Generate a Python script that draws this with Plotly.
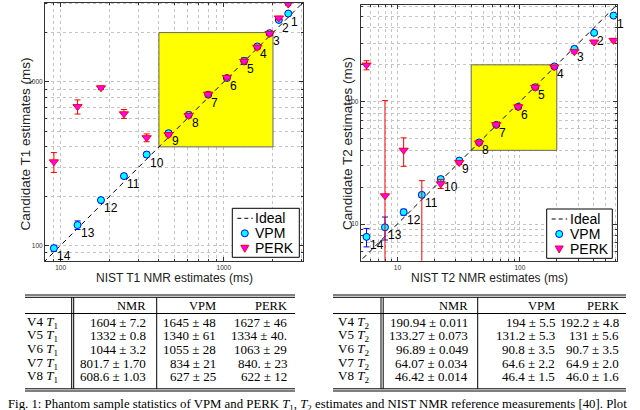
import math
import plotly.graph_objects as go

# sphere numbers of the NIST phantom
sample_ids = ["1", "2", "3", "4", "5", "6", "7", "8", "9", "10", "11", "12", "13", "14"]

# T1 (ms): NIST NMR reference vs. candidate estimates (mean, std)
nmr_t1 = [2480, 2173, 1907, 1604, 1332, 1044, 801.7, 608.6, 458.4, 336.5, 244.2, 176.6, 126.9, 90.9]
vpm_t1 = [2614, 2389, 1984, 1645, 1340, 1055, 834, 627, 485, 359, 265, 189, 133, 96]
vpm_t1_sd = [70, 65, 55, 48, 61, 28, 21, 25, 16, 12, 9, 7, 8, 4]
perk_t1 = [2990, 2457, 1975, 1627, 1334, 1063, 840, 622, 475, 455, 637, 919, 705, 324]
perk_t1_sd = [60, 55, 50, 46, 40, 29, 23, 12, 14, 25, 40, 22, 70, 45]

# T2 (ms)
nmr_t2 = [581.3, 403.5, 278.1, 190.94, 133.27, 96.89, 64.07, 46.42, 31.97, 22.56, 15.813, 11.237, 7.911, 5.592]
vpm_t2 = [505, 365, 270, 194, 131.2, 90.8, 64.6, 46.4, 33.0, 23.3, 17.3, 12.5, 9.4, 7.85]
vpm_t2_sd = [14, 11, 8, 5.5, 5.3, 3.5, 2.2, 1.5, 1.0, 1.0, 0.8, 0.7, 2.0, 1.35]
perk_t2 = [317, 307, 256, 192.2, 131, 90.7, 64.9, 46.0, 31.8, 21.3, 4.0, 40.1, 17.0, 199]
perk_t2_sd = [10, 10, 8, 4.8, 5.6, 3.5, 2.0, 1.6, 1.2, 1.8, 18.6, 10.5, 85, 17]

# identity line and region of interest
ideal_t1 = [50, 5000]
ideal_t2 = [2, 2000]
roi_t1 = [400, 2000]
roi_t2 = [40, 200]

t1_ticks = [100, 1000]
t1_minor = [80, 90, 200, 300, 400, 500, 600, 700, 800, 900, 2000, 3000]
t2_ticks = [10, 100]
t2_minor = [6, 7, 8, 9, 20, 30, 40, 50, 60, 70, 80, 90, 200, 300, 400, 500, 600]

# tables below the plots
table_cols = ["NMR", "VPM", "PERK"]
table_rows = ["V4", "V5", "V6", "V7", "V8"]
t1_nmr_txt = ["1604 ± 7.2", "1332 ± 0.8", "1044 ± 3.2", "801.7 ± 1.70", "608.6 ± 1.03"]
t1_vpm_txt = ["1645 ± 48", "1340 ± 61", "1055 ± 28", "834 ± 21", "627 ± 25"]
t1_perk_txt = ["1627 ± 46", "1334 ± 40.", "1063 ± 29", "840. ± 23", "622 ± 12"]
t2_nmr_txt = ["190.94 ± 0.011", "133.27 ± 0.073", "96.89 ± 0.049", "64.07 ± 0.034", "46.42 ± 0.014"]
t2_vpm_txt = ["194 ± 5.5", "131.2 ± 5.3", "90.8 ± 3.5", "64.6 ± 2.2", "46.4 ± 1.5"]
t2_perk_txt = ["192.2 ± 4.8", "131 ± 5.6", "90.7 ± 3.5", "64.9 ± 2.0", "46.0 ± 1.6"]

caption = ("Fig. 1: Phantom sample statistics of VPM and PERK <i>T</i><sub>1</sub>, "
           "<i>T</i><sub>2</sub> estimates and NIST NMR reference measurements [40]. Plot")

W, H = 640, 410
SANS = "Liberation Sans"
SERIF = "Liberation Serif"
VPM_FILL, VPM_EDGE = "#00ffff", "#0000ff"
PERK_FILL, PERK_EDGE = "#ff00ff", "#ff0000"
GRID = "#c4c4c4"
AXC = "#333333"
TAB_FS = 13


def px(x):
    return x / W


def py(y):
    return 1 - y / H


fig = go.Figure()
shapes = []
annots = []


def hline(x0, x1, y):
    shapes.append(dict(type="line", xref="paper", yref="paper", x0=px(x0), x1=px(x1),
                       y0=py(y), y1=py(y), line=dict(color="black", width=1)))


def vline(x, y0, y1):
    shapes.append(dict(type="line", xref="paper", yref="paper", x0=px(x), x1=px(x),
                       y0=py(y0), y1=py(y1), line=dict(color="black", width=1)))


def text(x, y, s, size, family=SANS, anchor="left", angle=0, color="black"):
    annots.append(dict(xref="paper", yref="paper", x=px(x), y=py(y), text=s, showarrow=False,
                       xanchor=anchor, yanchor="middle", textangle=angle,
                       font=dict(family=family, size=size, color=color)))


def panel(n, nmr, vpm, vpm_sd, perk, perk_sd, ideal, roi, rng, ticks, minor, box):
    xa, ya = ("x", "y") if n == 1 else ("x2", "y2")
    fig.add_trace(go.Scatter(x=ideal, y=ideal, mode="lines", xaxis=xa, yaxis=ya,
                             line=dict(color="black", width=1, dash="5px,4px")))
    fig.add_trace(go.Scatter(x=nmr, y=vpm, mode="markers", xaxis=xa, yaxis=ya,
                             error_y=dict(type="data", array=vpm_sd, color=VPM_EDGE, thickness=1, width=3),
                             marker=dict(symbol="circle", size=7, color=VPM_FILL,
                                         line=dict(color=VPM_EDGE, width=1))))
    fig.add_trace(go.Scatter(x=nmr, y=perk, mode="markers", xaxis=xa, yaxis=ya,
                             error_y=dict(type="data", array=perk_sd, color=PERK_EDGE, thickness=1, width=3),
                             marker=dict(symbol="triangle-down", size=8, color=PERK_FILL,
                                         line=dict(color=PERK_EDGE, width=1))))
    shapes.append(dict(type="rect", xref=xa, yref=ya, x0=roi[0], x1=roi[1], y0=roi[0], y1=roi[1],
                       fillcolor="#ffff00", line=dict(color="#666666", width=1), layer="between"))
    for i, s in enumerate(sample_ids):
        annots.append(dict(xref=xa, yref=ya, x=math.log10(nmr[i]), y=math.log10(vpm[i]), text=s,
                           showarrow=False, xanchor="left", yanchor="middle", xshift=1, yshift=-8,
                           font=dict(family=SANS, size=12, color="black")))
    x0, y0, x1, y1 = box
    axis = dict(type="log", range=rng, showline=True, linecolor=AXC, linewidth=1,
                mirror="allticks", ticks="inside", ticklen=4, tickcolor=AXC,
                tickmode="array", tickvals=ticks, ticktext=[str(t) for t in ticks],
                tickfont=dict(family=SANS, size=6.5, color=AXC),
                showgrid=True, gridcolor=GRID, griddash="dot", gridwidth=1, zeroline=False,
                minor=dict(tickmode="array", tickvals=minor, ticks="inside", ticklen=2,
                           tickcolor=AXC, showgrid=True, gridcolor=GRID, griddash="dot"))
    sfx = "" if n == 1 else "2"
    fig.update_layout({
        "xaxis" + sfx: dict(axis, domain=[px(x0), px(x1)], anchor=ya),
        "yaxis" + sfx: dict(axis, domain=[py(y1), py(y0)], anchor=xa),
    })


def legend(bx0, by0, bx1, by1):
    shapes.append(dict(type="rect", xref="paper", yref="paper", x0=px(bx0), x1=px(bx1),
                       y0=py(by1), y1=py(by0), fillcolor="white", line=dict(color="black", width=1)))
    ly = by0 + 10
    shapes.append(dict(type="line", xref="paper", yref="paper", x0=px(bx0 + 5), x1=px(bx0 + 20.5),
                       y0=py(ly), y1=py(ly), line=dict(color="black", width=1, dash="4px,3px")))
    cx, cy = bx0 + 12.5, by0 + 25
    shapes.append(dict(type="circle", xref="paper", yref="paper", x0=px(cx - 3.5), x1=px(cx + 3.5),
                       y0=py(cy + 3.5), y1=py(cy - 3.5), fillcolor=VPM_FILL,
                       line=dict(color=VPM_EDGE, width=1)))
    ty = by0 + 40
    path = "M {},{} L {},{} L {},{} Z".format(px(cx - 4), py(ty - 3), px(cx + 4), py(ty - 3),
                                              px(cx), py(ty + 4))
    shapes.append(dict(type="path", xref="paper", yref="paper", path=path, fillcolor=PERK_FILL,
                       line=dict(color=PERK_EDGE, width=1)))
    for k, s in enumerate(["Ideal", "VPM", "PERK"]):
        text(bx0 + 21, by0 + 10 + 15 * k, s, 14)


def table(x0, x1, dbl, single, label_x, col_right, sub, c1, c2, c3):
    for y in (295, 297.3, 313.5, 388.8, 391):
        hline(x0, x1, y)
    for x in (dbl[0], dbl[1], single):
        vline(x, 297.3, 388.8)
    for j, c in enumerate(table_cols):
        text(col_right[j], 305.5, c, 12.5, SERIF, "right")
    for k, r in enumerate(table_rows):
        y = 322 + 13.7 * k
        text(label_x, y, r + " <i>T</i><sub>" + sub + "</sub>", TAB_FS, SERIF, "left")
        text(col_right[0], y, c1[k], TAB_FS, SERIF, "right")
        text(col_right[1], y, c2[k], TAB_FS, SERIF, "right")
        text(col_right[2], y, c3[k], TAB_FS, SERIF, "right")


panel(1, nmr_t1, vpm_t1, vpm_t1_sd, perk_t1, perk_t1_sd, ideal_t1, roi_t1,
      [1.904, 3.485], t1_ticks, t1_minor, (45, 2.5, 303, 261))
panel(2, nmr_t2, vpm_t2, vpm_t2_sd, perk_t2, perk_t2_sd, ideal_t2, roi_t2,
      [0.70, 2.79], t2_ticks, t2_minor, (360.7, 5, 616.7, 260.7))

legend(232.3, 208.3, 299.3, 257.3)
legend(546.7, 209, 612.3, 258.3)

text(15, 144, "Candidate T1 estimates (ms)", 13.5, angle=-90, color="#222")
text(174, 277.5, "NIST T1 NMR estimates (ms)", 12, anchor="center", color="#222")
text(337.5, 144, "Candidate T2 estimates (ms)", 13.5, angle=-90, color="#222")
text(489, 277.5, "NIST T2 NMR estimates (ms)", 12, anchor="center", color="#222")

table(25, 295, (71.7, 73.7), 156.7, 25, [148, 217.5, 288.5], "1", t1_nmr_txt, t1_vpm_txt, t1_perk_txt)
table(333, 626, (381, 383.2), 477.7, 336, [469.5, 556.5, 621], "2", t2_nmr_txt, t2_vpm_txt, t2_perk_txt)

text(6, 405, caption, 12.8, SERIF, "left")

fig.update_layout(width=W, height=H, margin=dict(l=0, r=0, t=0, b=0),
                  paper_bgcolor="white", plot_bgcolor="white", showlegend=False,
                  hovermode=False, shapes=shapes, annotations=annots)

# drop the default 8px body margin so the figure fills the window exactly
fig.write_html("out.html", config={"displayModeBar": False},
               post_script="document.body.style.margin = '0';")
